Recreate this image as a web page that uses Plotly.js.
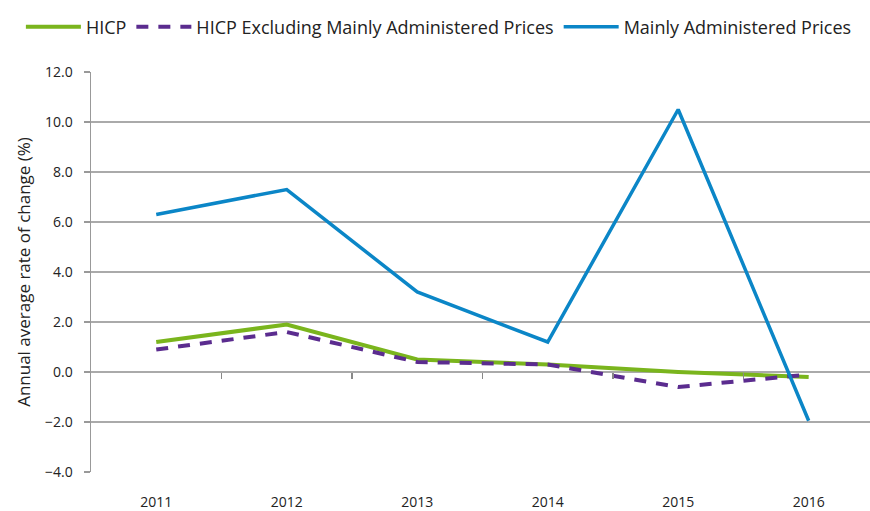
<!DOCTYPE html>
<html>
<head>
<meta charset="utf-8">
<script src="https://cdn.plot.ly/plotly-3.0.1.min.js"></script>
<style>html,body{margin:0;padding:0;background:#fff;}#chart{width:870px;height:511px;}</style>
</head>
<body>
<div id="chart"></div>
<script>
const years = ['2011', '2012', '2013', '2014', '2015', '2016'];
const hicp = [1.2, 1.9, 0.5, 0.3, 0.0, -0.2];
const hicpExcl = [0.9, 1.6, 0.4, 0.3, -0.6, -0.1];
const administered = [6.3, 7.3, 3.2, 1.2, 10.5, -1.95];
const yTicks = [-4, -2, 0, 2, 4, 6, 8, 10, 12];
const boundaryTicks = [0.5, 1.5, 2.5, 3.5, 4.5];

const fontFam = '"Open Sans", Lato, sans-serif';
const traces = [
  {x: years, y: hicp, name: 'HICP', type: 'scatter', mode: 'lines',
   line: {color: '#7ab51d', width: 4}},
  {x: years, y: hicpExcl, name: 'HICP Excluding Mainly Administered Prices', type: 'scatter', mode: 'lines',
   line: {color: '#5b2c8f', width: 4, dash: '12px,10px'}},
  {x: years, y: administered, name: 'Mainly Administered Prices', type: 'scatter', mode: 'lines',
   line: {color: '#0b86c7', width: 3.5}},
  {x: boundaryTicks, y: boundaryTicks.map(() => null), xaxis: 'x2', yaxis: 'y',
   type: 'scatter', mode: 'lines', showlegend: false, hoverinfo: 'skip'}
];
const layout = {
  width: 870, height: 511,
  margin: {l: 91, r: 0, t: 72, b: 39},
  paper_bgcolor: '#fff', plot_bgcolor: '#fff',
  font: {family: fontFam, color: '#333'},
  showlegend: true,
  legend: {orientation: 'h', x: -0.09, xanchor: 'left', y: 1.1125, yanchor: 'middle',
    font: {size: 18, color: '#222'}, itemwidth: 55, tracegroupgap: 0, traceorder: 'normal'},
  xaxis: {type: 'category', categoryarray: years, range: [-0.5, 5.47],
    showgrid: false, zeroline: false, showline: false, ticks: '',
    ticklabelstandoff: 20, tickfont: {size: 14, color: '#222'}},
  xaxis2: {overlaying: 'x', anchor: 'free', position: 0.25, range: [-0.5, 5.47],
    tickmode: 'array', tickvals: boundaryTicks, showticklabels: false,
    ticks: 'outside', ticklen: 6, tickcolor: '#888', tickwidth: 1.5,
    showgrid: false, zeroline: false, showline: false},
  yaxis: {range: [-4, 12], tickmode: 'array', tickvals: yTicks, tickformat: '.1f',
    showgrid: true, gridcolor: '#aaa', gridwidth: 1.5, zeroline: false,
    showline: true, linecolor: '#999', linewidth: 1.5,
    ticks: 'outside', ticklen: 6, tickcolor: '#999', tickwidth: 1.5,
    ticklabelstandoff: 8,
    tickfont: {size: 14, color: '#222'},
    title: {text: 'Annual average rate of change (%)', font: {size: 17, color: '#222'}, standoff: 10}}
};
Plotly.newPlot('chart', traces, layout, {displayModeBar: false, staticPlot: true});
</script>
</body>
</html>
